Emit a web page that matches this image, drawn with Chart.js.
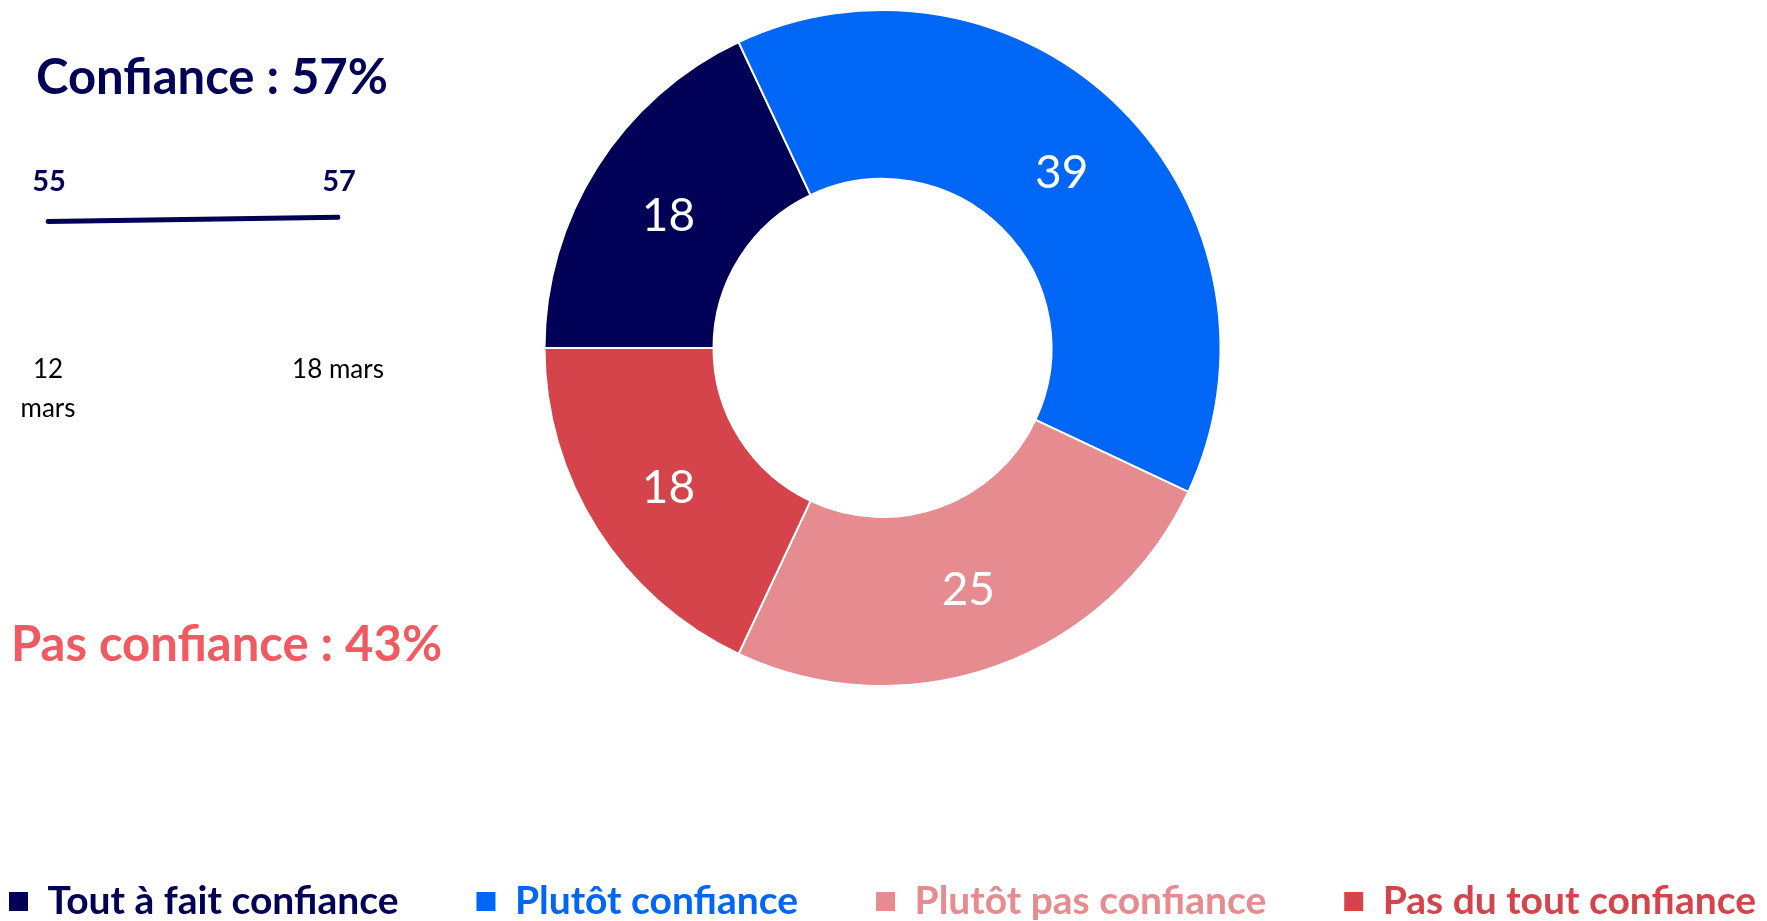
<!DOCTYPE html>
<html>
<head>
<meta charset="utf-8">
<script src="https://cdn.jsdelivr.net/npm/chart.js@4"></script>
<style>
  html, body { margin: 0; padding: 0; background: #fff; overflow: hidden; }
  body { width: 1767px; height: 921px; position: relative; font-family: Lato, "Open Sans", sans-serif; }
  .big { position: absolute; font-weight: 700; font-size: 49px; line-height: 49px; white-space: nowrap; }
  #trendBox { position: absolute; left: 0; top: 134px; width: 420px; height: 302px; }
  #donutBox { position: absolute; left: -118px; top: -108px; width: 2001px; height: 1039px; }
</style>
</head>
<body>
<div class="big" style="left:36px; top:51px; color:#000057;">Confiance : 57%</div>
<div class="big" style="left:11px; top:618px; color:#F05A60;">Pas confiance : 43%</div>
<div id="donutBox"><canvas id="donut"></canvas></div>
<div id="trendBox"><canvas id="trend"></canvas></div>
<script>
// confidence breakdown (doughnut)
var categories = ['Tout à fait confiance', 'Plutôt confiance', 'Plutôt pas confiance', 'Pas du tout confiance'];
var shares = [18, 39, 25, 18];
var colours = ['#000057', '#0066F5', '#E68C90', '#D5444B'];

// small trend line
var trendDates = [['12', 'mars'], '18 mars'];
var trendValues = [55, 57];

var navy = '#000057';

var donutLabels = {
    id: 'donutLabels',
    afterDatasetsDraw: (chart) => {
        const ctx = chart.ctx;
        const meta = chart.getDatasetMeta(0);
        ctx.save();
        ctx.fillStyle = '#fff';
        ctx.font = '46px Lato';
        ctx.textAlign = 'center';
        ctx.textBaseline = 'middle';
        meta.data.forEach((arc, i) => {
            const p = arc.tooltipPosition();
            ctx.fillText(String(chart.data.datasets[0].data[i]), p.x, p.y + 4);
        });
        ctx.restore();
    }
};

var chart_donut = new Chart(document.getElementById('donut'), {
    type: 'doughnut',
    data: {
        labels: categories,
        datasets: [{
            data: shares,
            backgroundColor: colours,
            borderColor: '#fff',
            borderWidth: 2,
            hoverOffset: 0
        }]
    },
    options: {
        animation: false,
        responsive: true,
        maintainAspectRatio: false,
        rotation: -90,
        radius: 338,
        cutout: '50%',
        events: [],
        plugins: {
            tooltip: { enabled: false },
            legend: {
                display: true,
                position: 'bottom',
                labels: {
                    boxWidth: 19,
                    boxHeight: 19,
                    padding: 78,
                    font: { family: 'Lato', size: 39, weight: 'bold' },
                    generateLabels: function(chart) {
                        return chart.data.labels.map(function(label, i) {
                            return {
                                text: label,
                                fillStyle: colours[i],
                                strokeStyle: colours[i],
                                fontColor: colours[i],
                                lineWidth: 0,
                                hidden: false,
                                index: i
                            };
                        });
                    }
                }
            }
        }
    },
    plugins: [donutLabels]
});

// both value labels sit on one line above the trend
var pointLabels = {
    id: 'pointLabels',
    afterDatasetsDraw: (chart) => {
        const ctx = chart.ctx;
        const meta = chart.getDatasetMeta(0);
        const top = Math.min.apply(null, meta.data.map(p => p.y));
        ctx.save();
        ctx.fillStyle = navy;
        ctx.font = 'bold 29px Lato';
        ctx.textAlign = 'center';
        ctx.textBaseline = 'alphabetic';
        meta.data.forEach((pt, i) => {
            ctx.fillText(String(trendValues[i]), pt.x + 1, top - 26);
        });
        ctx.restore();
    }
};

var chart_trend = new Chart(document.getElementById('trend'), {
    type: 'line',
    data: {
        labels: trendDates,
        datasets: [{
            data: trendValues,
            borderColor: navy,
            borderWidth: 5,
            borderCapStyle: 'round',
            pointRadius: 0,
            fill: false
        }]
    },
    options: {
        animation: false,
        responsive: true,
        maintainAspectRatio: false,
        events: [],
        layout: { padding: { left: 48, right: 82, top: 0, bottom: 0 } },
        plugins: { legend: { display: false }, tooltip: { enabled: false } },
        scales: {
            x: {
                offset: false,
                grid: { display: false, drawTicks: false },
                border: { display: false },
                ticks: {
                    color: '#000',
                    font: { family: 'Lato', size: 26, lineHeight: 1.5 },
                    maxRotation: 0,
                    autoSkip: false,
                    padding: 8
                }
            },
            y: {
                display: false,
                min: 0,
                max: 95
            }
        }
    },
    plugins: [pointLabels]
});
</script>
</body>
</html>
